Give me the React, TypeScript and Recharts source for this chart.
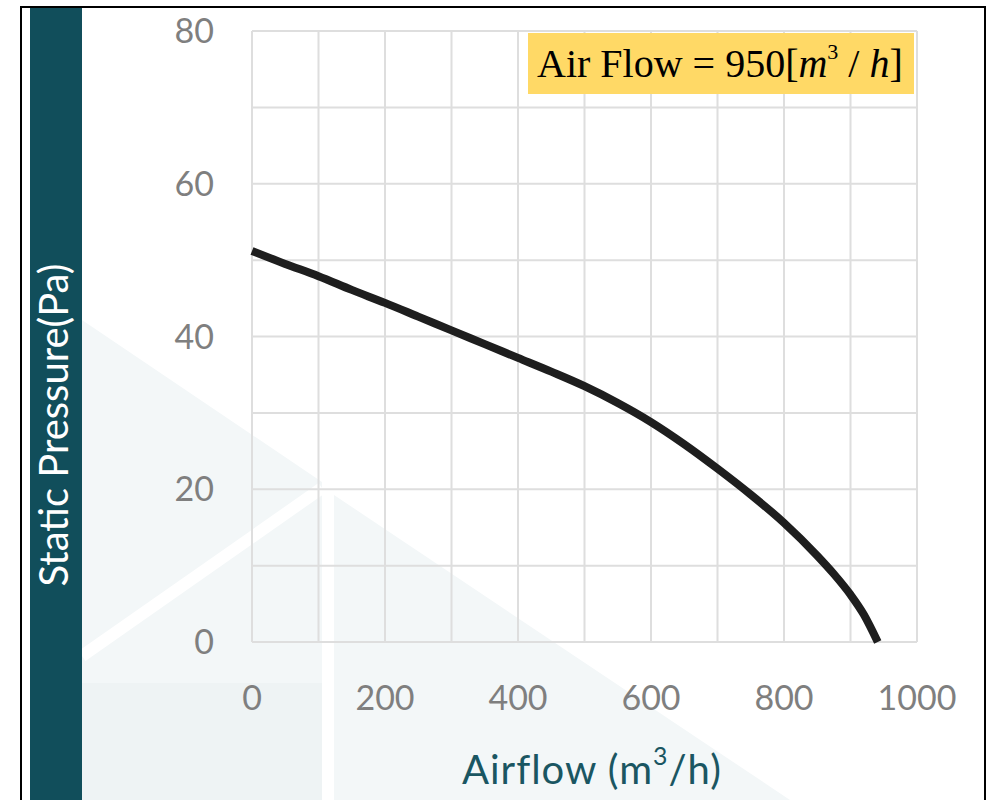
import React from 'react';
import { LineChart, Line, XAxis, YAxis, CartesianGrid } from 'recharts';

// fan curve
const airflow = [0, 50, 100, 150, 200, 250, 300, 350, 400, 450, 500, 550, 600, 650, 700, 750, 800, 850, 875, 900, 920, 941];
const pressure = [51.2, 49.5, 47.9, 46.1, 44.4, 42.6, 40.8, 39.0, 37.2, 35.4, 33.5, 31.3, 28.8, 25.9, 22.7, 19.3, 15.6, 11.3, 8.9, 6.2, 3.6, 0];

// grid every 100 / 10, labels every 200 / 20
const xTicks = [0, 100, 200, 300, 400, 500, 600, 700, 800, 900, 1000];
const yTicks = [0, 10, 20, 30, 40, 50, 60, 70, 80];
const xLabelStep = 200;
const yLabelStep = 20;

const annotationValue = 950;

const data = airflow.map((x, i) => ({ x, p: pressure[i] }));

const TEAL = '#114e5b';
const TINT = '#f3f7f8';

const tickStyle = { fill: '#7f7f7f', fontSize: 34, fontFamily: 'Lato, "Liberation Sans", sans-serif' };

export default function App() {
  return (
    <div style={{ position: 'absolute', left: 0, top: 0, width: 987, height: 800, overflow: 'hidden', background: '#fff' }}>
      {/* faint background decoration */}
      <svg width={987} height={800} style={{ position: 'absolute', left: 0, top: 0 }}>
        <polygon points="82,320 322,482 322,800 82,800" fill={TINT} />
        <rect x={82} y={683} width={240} height={117} fill="#eef3f4" />
        <polygon points="334,495 790,800 334,800" fill={TINT} />
        <line x1={322} y1={488} x2={82} y2={656} stroke="#fff" strokeWidth={12} />
        <rect x={322} y={488} width={12} height={312} fill="#fff" />
      </svg>

      <div style={{ position: 'absolute', left: 0, top: 0 }}>
        <LineChart width={987} height={800} data={data} margin={{ top: 31, right: 70, bottom: 108, left: 0 }}>
          <CartesianGrid stroke="#dedede" strokeWidth={2} />
          <XAxis
            dataKey="x"
            type="number"
            domain={[0, 1000]}
            ticks={xTicks}
            interval={0}
            height={50}
            axisLine={false}
            tickLine={false}
            tickMargin={38}
            tick={tickStyle}
            tickFormatter={(v: number) => (v % xLabelStep === 0 ? String(v) : '')}
          />
          <YAxis
            type="number"
            domain={[0, 80]}
            ticks={yTicks}
            interval={0}
            width={252}
            axisLine={false}
            tickLine={false}
            tickMargin={32}
            tick={tickStyle}
            tickFormatter={(v: number) => (v % yLabelStep === 0 ? String(v) : '')}
          />
          <Line type="monotone" dataKey="p" stroke="#1e1e1e" strokeWidth={8} dot={false} isAnimationActive={false} />
        </LineChart>
      </div>

      {/* frame, side band and titles */}
      <div style={{ position: 'absolute', left: 20, top: 6, width: 962, height: 820, border: '2px solid #000' }} />
      <div style={{ position: 'absolute', left: 30, top: 8, width: 52, height: 792, background: TEAL }} />
      <svg width={987} height={800} style={{ position: 'absolute', left: 0, top: 0, pointerEvents: 'none' }}>
        <text
          transform="translate(68,425) rotate(-90)"
          textAnchor="middle"
          fill="#fff"
          fontSize={40}
          fontFamily='Lato, "Liberation Sans", sans-serif'
        >
          Static Pressure(Pa)
        </text>
      </svg>
      <div
        style={{
          position: 'absolute',
          left: 462,
          top: 743,
          color: '#1a5662',
          fontSize: 40,
          lineHeight: '52px',
          letterSpacing: 1,
          fontFamily: 'Lato, "Liberation Sans", sans-serif',
          whiteSpace: 'nowrap',
        }}
      >
        Airflow (m<span style={{ fontSize: '0.62em', position: 'relative', top: '-0.75em' }}>3</span>/h)
      </div>

      <div
        style={{
          position: 'absolute',
          left: 528,
          top: 33,
          width: 386,
          height: 61,
          background: '#ffd966',
          boxSizing: 'border-box',
          paddingLeft: 9,
          fontFamily: '"Liberation Serif", "Times New Roman", serif',
          fontSize: 40,
          lineHeight: '61px',
          color: '#000',
          whiteSpace: 'nowrap',
        }}
      >
        Air Flow = {annotationValue}[<i>m</i>
        <span style={{ fontSize: '0.55em', position: 'relative', top: '-0.8em' }}>3</span> / <i>h</i>]
      </div>
    </div>
  );
}
